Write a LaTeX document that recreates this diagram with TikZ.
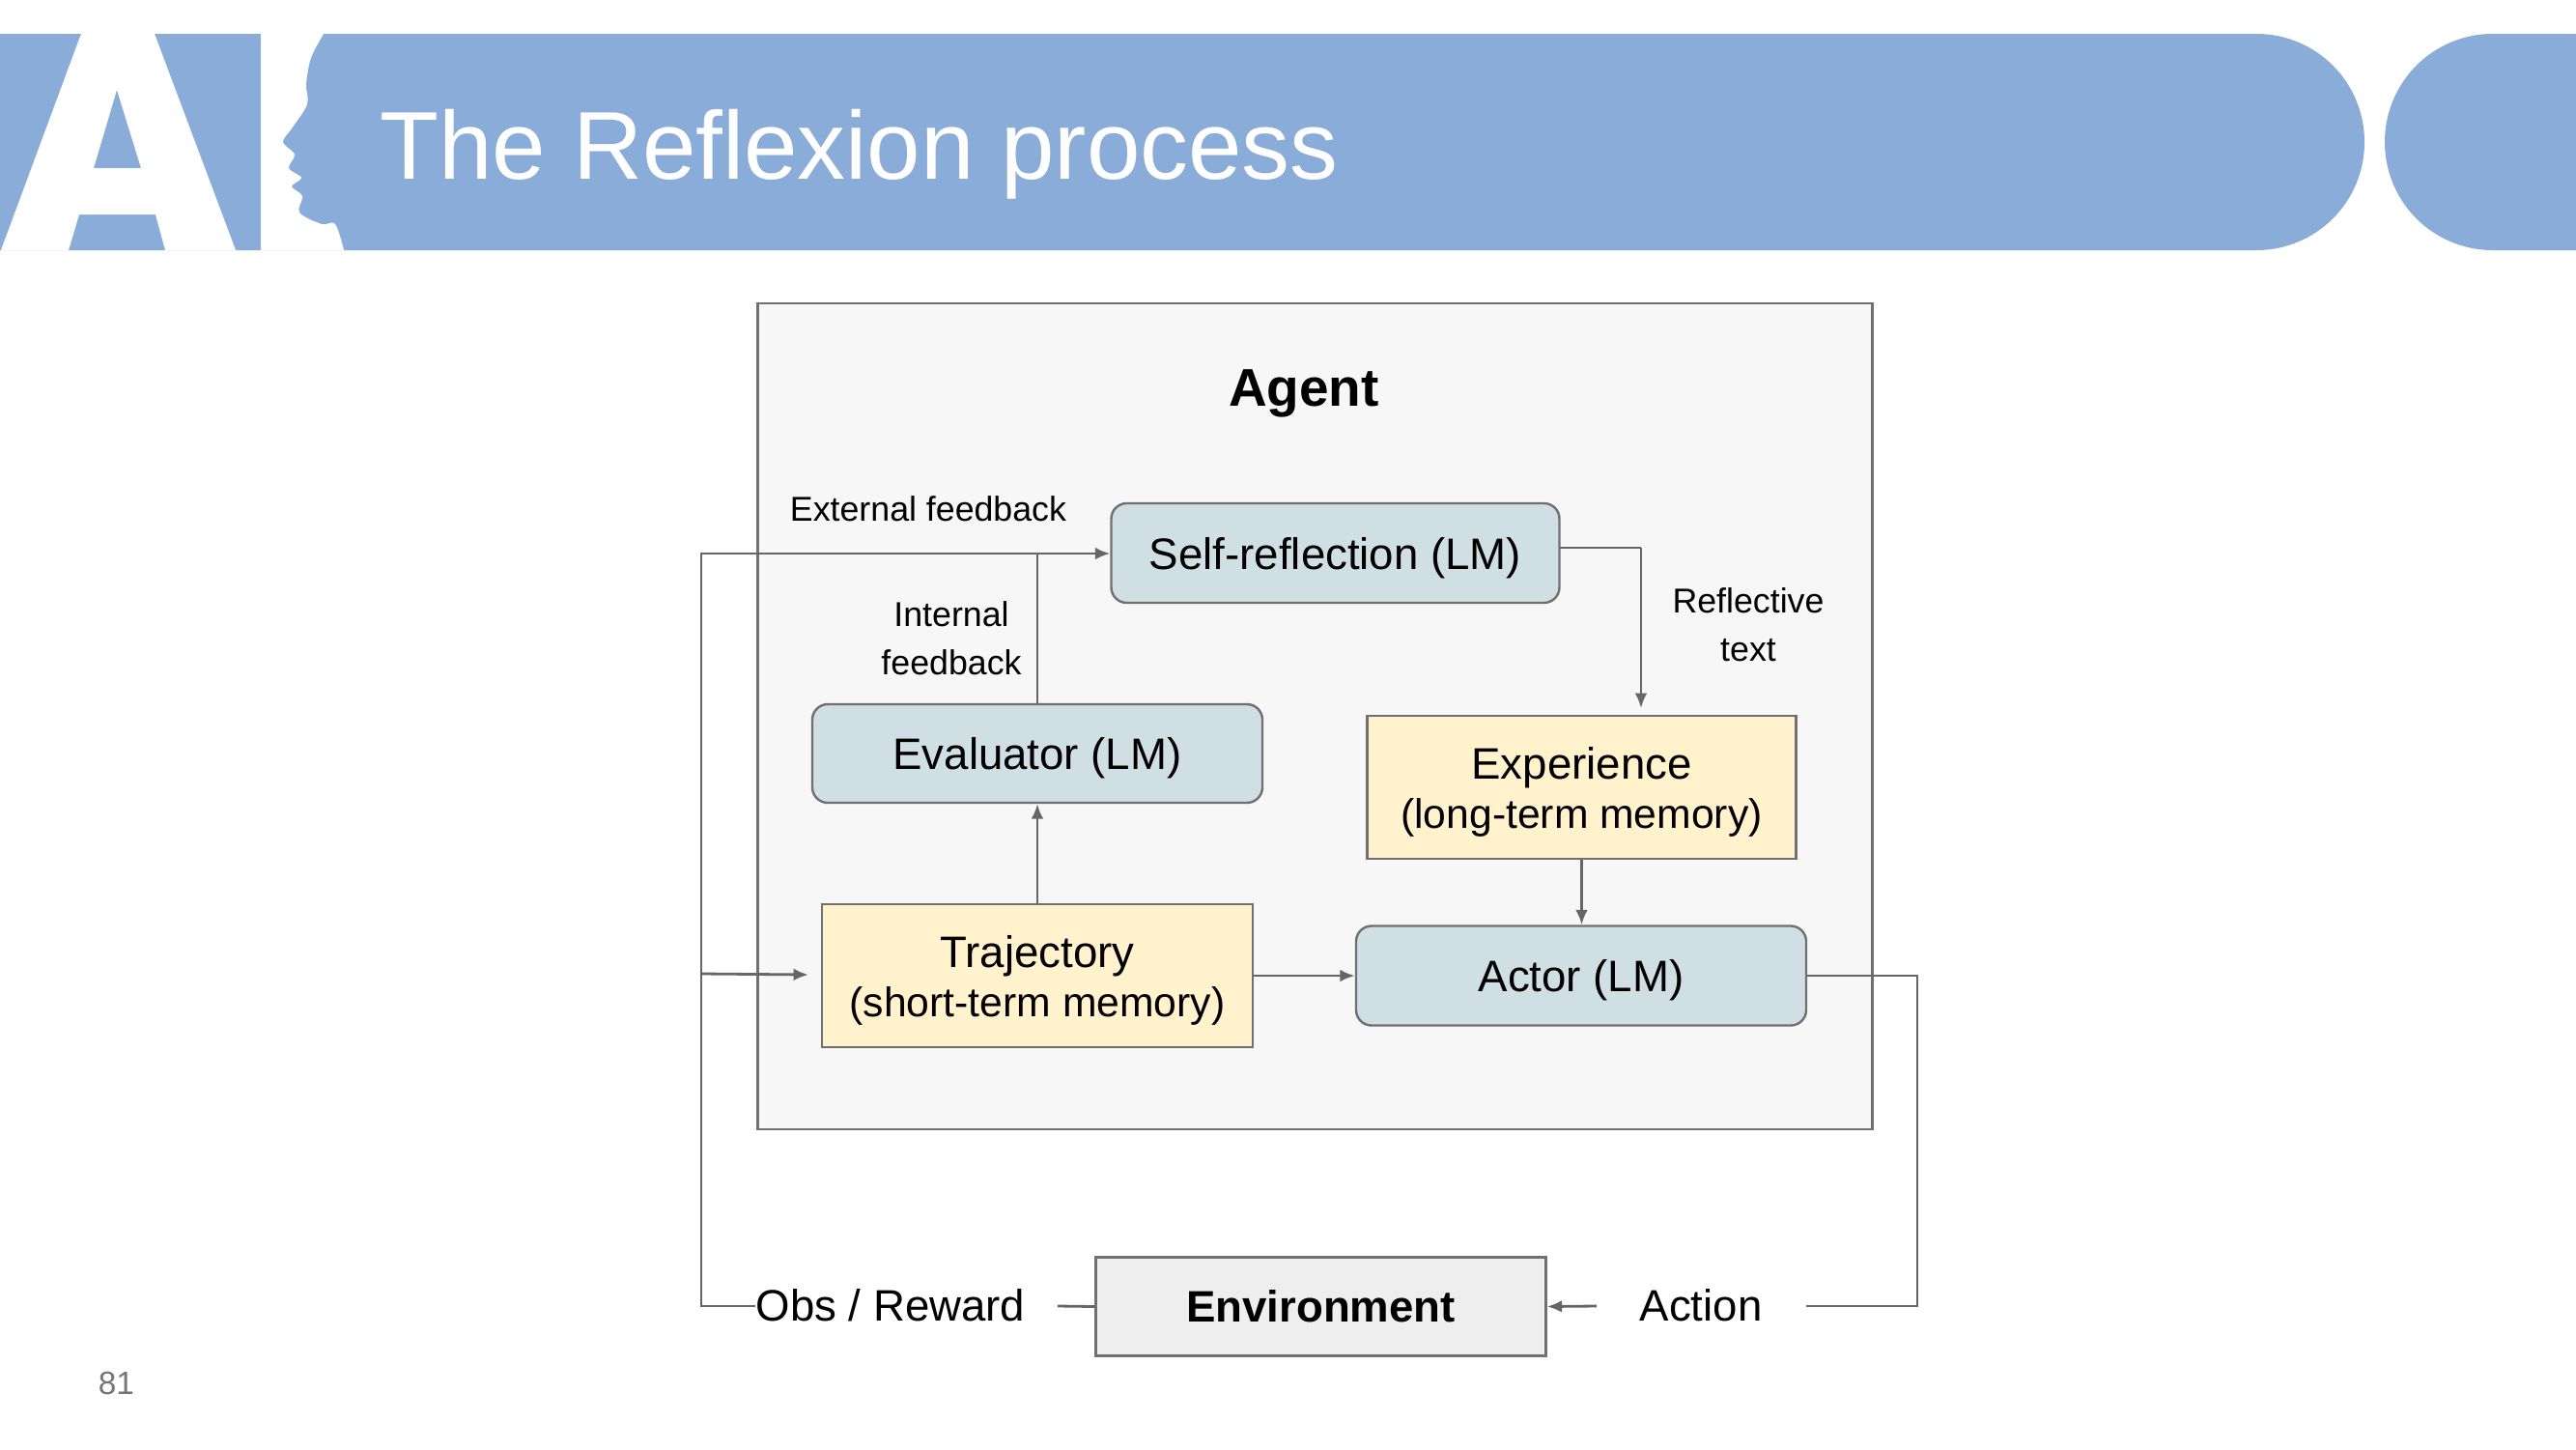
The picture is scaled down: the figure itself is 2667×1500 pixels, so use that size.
\documentclass[tikz,border=0pt]{standalone}
\usepackage{fontspec}
\setmainfont{Liberation Sans}
\usetikzlibrary{arrows.meta}
\definecolor{bannerblue}{HTML}{89ACD9}
\definecolor{lmblue}{HTML}{D0DFE3}
\definecolor{memyellow}{HTML}{FFF2CC}
\definecolor{agentbg}{HTML}{F7F7F7}
\definecolor{envbg}{HTML}{EEEEEE}
\definecolor{linegrey}{HTML}{666666}
\definecolor{boxgrey}{HTML}{707070}
\definecolor{numgrey}{HTML}{757575}
\newcommand{\memline}{\fontsize{16}{19.1}\selectfont}
\tikzset{
  x=0.375pt,y=-0.375pt,
  sized/.style 2 args={minimum width=#1*0.375pt,minimum height=#2*0.375pt},
  base box/.style={draw=boxgrey,line width=0.9pt,inner sep=0pt,align=center,text=black,
    font=\fontsize{17.1}{19.1}\selectfont},
  lmbox/.style={base box,fill=lmblue,rounded corners=6pt,text depth=-0.8pt},
  membox/.style={base box,fill=memyellow,text depth=-0.8pt},
  envbox/.style={base box,fill=envbg,font=\fontsize{17.1}{19.1}\selectfont\bfseries},
  agentbox/.style={draw=boxgrey,line width=0.9pt,fill=agentbg},
  conn/.style={draw=linegrey,line width=1.05pt},
  arrowconn/.style={conn,-{Latex[length=5.8pt,width=4.8pt]}},
  smalllabel/.style={inner sep=0pt,align=center,text=black,font=\fontsize{13.4}{18.6}\selectfont},
  biglabel/.style={inner sep=0pt,align=center,text=black,font=\fontsize{17.1}{19.1}\selectfont},
}
\begin{document}
\begin{tikzpicture}
\useasboundingbox (0,0) rectangle (2667,1500);
\fill[white] (0,0) rectangle (2667,1500);
% banner
\fill[bannerblue] (0,35) -- (2336,35) .. controls (2398,35) and (2448,85) .. (2448,147) .. controls (2448,209) and (2398,259) .. (2336,259) -- (0,259) -- cycle;
\fill[bannerblue] (2667,35) -- (2581,35) .. controls (2519,35) and (2469,85) .. (2469,147) .. controls (2469,209) and (2519,259) .. (2581,259) -- (2667,259) -- cycle;
% A letter
\fill[white,even odd rule] (84,35) -- (160,35) -- (244,259) -- (171,259) -- (161,222) -- (82,222) -- (71,259) -- (1,259) -- cycle
  (121,93) -- (146,174) -- (97,174) -- cycle;
% I letter with face
\fill[white] (270,35) -- (335,35) -- plot[smooth,tension=0.55] coordinates {(335,35) (322,60) (317,87) (318,108) (302,133) (293,147) (305,160) (299,174) (312,184) (302,193) (313,203) (310,220) (333,232) (347,232) (356,259)} -- (270,259) -- cycle;
\node[anchor=base west,inner sep=0pt,text=white,font=\fontsize{37.4}{40}\selectfont] (title) at (393,185) {The Reflexion process};
\node[inner sep=0pt,text=numgrey,font=\fontsize{12.5}{14}\selectfont] (pagenum) at (120.5,1432) {81};
% agent
\node[agentbox,sized={1154}{855}] (agent) at (1361.5,741.5) {};
\node[inner sep=0pt,text=black,font=\fontsize{20.6}{24}\selectfont\bfseries] (agentlabel) at (1350,407) {Agent};
% nodes
\node[lmbox,sized={464}{103}] (self) at (1382.5,572.5) {Self-reflection (LM)};
\node[lmbox,sized={466}{102}] (eval) at (1074,780) {Evaluator (LM)};
\node[membox,sized={444}{148}] (exper) at (1637.5,815) {Experience\\{\memline(long-term memory)}};
\node[membox,sized={446}{148}] (traj) at (1074,1010) {Trajectory\\{\memline(short-term memory)}};
\node[lmbox,sized={466}{103}] (actor) at (1637,1010) {Actor (LM)};
\node[envbox,sized={466}{102}] (env) at (1367.5,1352.5) {Environment};
% labels
\node[smalllabel] (extlabel) at (961,527) {External feedback};
\node[smalllabel] (intlabel) at (985,661) {Internal\\feedback};
\node[smalllabel] (reflabel) at (1810,647) {Reflective\\text};
\node[biglabel,anchor=west] (obslabel) at (782,1351) {Obs / Reward};
\node[biglabel] (actlabel) at (1761,1351) {Action};
% helper points
\coordinate (leftrail) at (726,1352);
\coordinate (topleft) at (726,573);
\coordinate (joint) at (1074,573);
\coordinate (trajin) at (837,1009);
\coordinate (railmid) at (726,1008);
\coordinate (selfout) at (1615,567);
\coordinate (selfcorner) at (1699,567);
\coordinate (experin) at (1699,733);
\coordinate (actcorner) at (1985,1010);
\coordinate (actbottom) at (1985,1352);
\coordinate (actlineend) at (1870,1352);
\coordinate (actarrowstart) at (1653,1352);
\coordinate (obsline) at (1095,1352);
% connectors
\draw[conn] (obslabel.west |- leftrail) -- (leftrail) -- (topleft) -- (joint);
\draw[arrowconn] (joint) -- (self.west |- joint);
\draw[conn] (eval.north) -- (joint);
\draw[arrowconn] (railmid) -- (trajin);
\draw[arrowconn] (traj.north) -- (eval.south);
\draw[arrowconn] (traj.east) -- (actor.west);
\draw[arrowconn] (exper.south) -- (exper.south |- actor.north);
\draw[conn] (selfout) -- (selfcorner);
\draw[arrowconn] (selfcorner) -- (experin);
\draw[conn] (actor.east) -- (actcorner) -- (actbottom) -- (actlineend);
\draw[arrowconn] (actarrowstart) -- (env.east);
\draw[conn] (env.west) -- (obsline);
\end{tikzpicture}
\end{document}
